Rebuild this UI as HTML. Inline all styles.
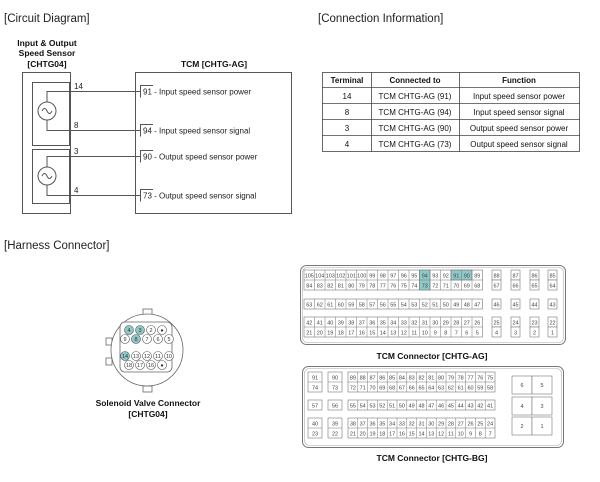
<!DOCTYPE html>
<html><head><meta charset="utf-8"><style>
html,body{margin:0;padding:0;background:#fff;}
svg{display:block;font-family:"Liberation Sans",Arial,sans-serif;}
.c{font-size:5.5px;fill:#444;text-anchor:middle;}
.cell{fill:#fff;stroke:#777;stroke-width:0.6;}
.hl{fill:#8ec8c8;stroke:#777;stroke-width:0.6;}
</style></head><body>
<svg width="600" height="482" viewBox="0 0 600 482" xmlns="http://www.w3.org/2000/svg">
<!-- headings -->
<text x="4" y="22" font-size="11.5" fill="#222">[Circuit Diagram]</text>
<text x="318" y="22" font-size="11.5" fill="#222">[Connection Information]</text>
<text x="4" y="249" font-size="11.5" fill="#222">[Harness Connector]</text>

<!-- circuit -->
<g font-size="8.5" font-weight="bold" fill="#111" text-anchor="middle">
<text x="47" y="46">Input &amp; Output</text>
<text x="47" y="56">Speed Sensor</text>
<text x="47" y="67">[CHTG04]</text>
<text x="214" y="67">TCM [CHTG-AG]</text>
</g>
<g fill="none" stroke="#555" stroke-width="1">
<rect x="22.5" y="72.5" width="48" height="141"/>
<rect x="135.5" y="72.5" width="156" height="141"/>
<rect x="32.5" y="82.5" width="37" height="63"/>
<rect x="32.5" y="149.5" width="37" height="54"/>
<circle cx="47" cy="111" r="9"/>
<circle cx="47" cy="176" r="9"/>
<path d="M42 111 q2.5 -5 5 0 t5 0"/>
<path d="M42 176 q2.5 -5 5 0 t5 0"/>
<path d="M47 102 V91.5 H141"/>
<path d="M47 120 V130.5 H141"/>
<path d="M47 167 V156.5 H141"/>
<path d="M47 185 V195.5 H141"/>
<path d="M153 85.5 H140.5 V97.5"/>
<path d="M153 124.5 H140.5 V136.5"/>
<path d="M153 150.5 H140.5 V162.5"/>
<path d="M153 189.5 H140.5 V201.5"/>
</g>
<g font-size="8" fill="#222">
<text x="74" y="89">14</text><text x="74" y="128">8</text>
<text x="74" y="154">3</text><text x="74" y="193">4</text>
<text x="143" y="94.5">91 - Input speed sensor power</text>
<text x="143" y="133.5">94 - Input speed sensor signal</text>
<text x="143" y="159.5">90 - Output speed sensor power</text>
<text x="143" y="198.5">73 - Output speed sensor signal</text>
</g>

<!-- table -->
<g fill="none" stroke="#444" stroke-width="0.8">
<rect x="322.5" y="72.5" width="257" height="79"/>
<line x1="322" y1="87.5" x2="580" y2="87.5"/>
<line x1="322" y1="103.5" x2="580" y2="103.5"/>
<line x1="322" y1="119.5" x2="580" y2="119.5"/>
<line x1="322" y1="135.5" x2="580" y2="135.5"/>
<line x1="371.5" y1="72" x2="371.5" y2="152"/>
<line x1="459.5" y1="72" x2="459.5" y2="152"/>
</g>
<g font-size="8" fill="#111" text-anchor="middle">
<text x="347" y="83" font-weight="bold">Terminal</text>
<text x="415" y="83" font-weight="bold">Connected to</text>
<text x="519" y="83" font-weight="bold">Function</text>
<text x="347" y="99">14</text><text x="415" y="99">TCM CHTG-AG (91)</text><text x="519" y="99">Input speed sensor power</text>
<text x="347" y="115">8</text><text x="415" y="115">TCM CHTG-AG (94)</text><text x="519" y="115">Input speed sensor signal</text>
<text x="347" y="131">3</text><text x="415" y="131">TCM CHTG-AG (90)</text><text x="519" y="131">Output speed sensor power</text>
<text x="347" y="147">4</text><text x="415" y="147">TCM CHTG-AG (73)</text><text x="519" y="147">Output speed sensor signal</text>
</g>

<!-- solenoid connector -->
<g fill="#fff" stroke="#666" stroke-width="0.8">
<rect x="106" y="338" width="6" height="7"/>
<rect x="106" y="358" width="6" height="7"/>
<rect x="143" y="309" width="9" height="6"/>
<rect x="143" y="386" width="9" height="6"/>
<circle cx="147" cy="350" r="36"/>
<rect x="120" y="322" width="52" height="50" rx="5"/>
</g>
<g font-size="5.5" text-anchor="middle" fill="#333" stroke="#555" stroke-width="0.6">
<circle cx="129" cy="330" r="4.5" fill="#8ec8c8"/><circle cx="140" cy="330" r="4.5" fill="#8ec8c8"/><circle cx="151" cy="330" r="4.5" fill="#fff"/><circle cx="162" cy="330" r="4.5" fill="#fff"/>
<circle cx="125" cy="339" r="4.5" fill="#fff"/><circle cx="136" cy="339" r="4.5" fill="#8ec8c8"/><circle cx="147" cy="339" r="4.5" fill="#fff"/><circle cx="158" cy="339" r="4.5" fill="#fff"/><circle cx="169" cy="339" r="4.5" fill="#fff"/>
<circle cx="125" cy="356" r="4.5" fill="#8ec8c8"/><circle cx="136" cy="356" r="4.5" fill="#fff"/><circle cx="147" cy="356" r="4.5" fill="#fff"/><circle cx="158" cy="356" r="4.5" fill="#fff"/><circle cx="169" cy="356" r="4.5" fill="#fff"/>
<circle cx="129" cy="365" r="4.5" fill="#fff"/><circle cx="140" cy="365" r="4.5" fill="#fff"/><circle cx="151" cy="365" r="4.5" fill="#fff"/><circle cx="162" cy="365" r="4.5" fill="#fff"/>
</g>
<g font-size="5.5" text-anchor="middle" fill="#333">
<text x="129" y="332">4</text><text x="140" y="332">3</text><text x="151" y="332">2</text><text x="162" y="332">●</text>
<text x="125" y="341">9</text><text x="136" y="341">8</text><text x="147" y="341">7</text><text x="158" y="341">6</text><text x="169" y="341">5</text>
<text x="125" y="358">14</text><text x="136" y="358">13</text><text x="147" y="358">12</text><text x="158" y="358">11</text><text x="169" y="358">10</text>
<text x="129" y="367">18</text><text x="140" y="367">17</text><text x="151" y="367">16</text><text x="162" y="367">●</text>
</g>
<g font-size="8.5" font-weight="bold" fill="#111" text-anchor="middle">
<text x="148" y="406">Solenoid Valve Connector</text>
<text x="148" y="417">[CHTG04]</text>
<text x="432" y="359">TCM Connector [CHTG-AG]</text>
<text x="432" y="461">TCM Connector [CHTG-BG]</text>
</g>

<!-- AG connector -->
<rect x="300.5" y="265.5" width="265" height="79" rx="6" fill="none" stroke="#777"/>
<rect x="302.5" y="267.5" width="261" height="75" rx="5" fill="none" stroke="#aaa" stroke-width="0.6"/>
<g>
<!-- row1 -->
<rect class="cell" x="304" y="270" width="178.5" height="20"/>
<rect class="hl" x="419.5" y="270" width="10.5" height="20"/>
<rect class="hl" x="451" y="270" width="21" height="10"/>
<rect class="cell" x="304" y="299" width="178.5" height="10"/>
<rect class="cell" x="304" y="317" width="178.5" height="20"/>
<g stroke="#777" stroke-width="0.5">
<line x1="304" y1="280" x2="482.5" y2="280"/><line x1="304" y1="327" x2="482.5" y2="327"/>
<path d="M314.5 270V290M325 270V290M335.5 270V290M346 270V290M356.5 270V290M367 270V290M377.5 270V290M388 270V290M398.5 270V290M409 270V290M419.5 270V290M430 270V290M440.5 270V290M451 270V290M461.5 270V290M472 270V290"/>
<path d="M314.5 299V309M325 299V309M335.5 299V309M346 299V309M356.5 299V309M367 299V309M377.5 299V309M388 299V309M398.5 299V309M409 299V309M419.5 299V309M430 299V309M440.5 299V309M451 299V309M461.5 299V309M472 299V309"/>
<path d="M314.5 317V337M325 317V337M335.5 317V337M346 317V337M356.5 317V337M367 317V337M377.5 317V337M388 317V337M398.5 317V337M409 317V337M419.5 317V337M430 317V337M440.5 317V337M451 317V337M461.5 317V337M472 317V337"/>
</g>
<g class="cell">
<rect x="492" y="270" width="9" height="10"/><rect x="511" y="270" width="9" height="10"/><rect x="530" y="270" width="9" height="10"/><rect x="548" y="270" width="9" height="10"/>
<rect x="492" y="280" width="9" height="10"/><rect x="511" y="280" width="9" height="10"/><rect x="530" y="280" width="9" height="10"/><rect x="548" y="280" width="9" height="10"/>
<rect x="492" y="299" width="9" height="10"/><rect x="511" y="299" width="9" height="10"/><rect x="530" y="299" width="9" height="10"/><rect x="548" y="299" width="9" height="10"/>
<rect x="492" y="317" width="9" height="10"/><rect x="511" y="317" width="9" height="10"/><rect x="530" y="317" width="9" height="10"/><rect x="548" y="317" width="9" height="10"/>
<rect x="492" y="327" width="9" height="10"/><rect x="511" y="327" width="9" height="10"/><rect x="530" y="327" width="9" height="10"/><rect x="548" y="327" width="9" height="10"/>
</g>
<g class="c">
<text y="277.5"><tspan x="309.25">105</tspan><tspan x="319.75">104</tspan><tspan x="330.25">103</tspan><tspan x="340.75">102</tspan><tspan x="351.25">101</tspan><tspan x="361.75">100</tspan><tspan x="372.25">99</tspan><tspan x="382.75">98</tspan><tspan x="393.25">97</tspan><tspan x="403.75">96</tspan><tspan x="414.25">95</tspan><tspan x="424.75">94</tspan><tspan x="435.25">93</tspan><tspan x="445.75">92</tspan><tspan x="456.25">91</tspan><tspan x="466.75">90</tspan><tspan x="477.25">89</tspan><tspan x="496.5">88</tspan><tspan x="515.5">87</tspan><tspan x="534.5">86</tspan><tspan x="552.5">85</tspan></text>
<text y="287.5"><tspan x="309.25">84</tspan><tspan x="319.75">83</tspan><tspan x="330.25">82</tspan><tspan x="340.75">81</tspan><tspan x="351.25">80</tspan><tspan x="361.75">79</tspan><tspan x="372.25">78</tspan><tspan x="382.75">77</tspan><tspan x="393.25">76</tspan><tspan x="403.75">75</tspan><tspan x="414.25">74</tspan><tspan x="424.75">73</tspan><tspan x="435.25">72</tspan><tspan x="445.75">71</tspan><tspan x="456.25">70</tspan><tspan x="466.75">69</tspan><tspan x="477.25">68</tspan><tspan x="496.5">67</tspan><tspan x="515.5">66</tspan><tspan x="534.5">65</tspan><tspan x="552.5">64</tspan></text>
<text y="306.5"><tspan x="309.25">63</tspan><tspan x="319.75">62</tspan><tspan x="330.25">61</tspan><tspan x="340.75">60</tspan><tspan x="351.25">59</tspan><tspan x="361.75">58</tspan><tspan x="372.25">57</tspan><tspan x="382.75">56</tspan><tspan x="393.25">55</tspan><tspan x="403.75">54</tspan><tspan x="414.25">53</tspan><tspan x="424.75">52</tspan><tspan x="435.25">51</tspan><tspan x="445.75">50</tspan><tspan x="456.25">49</tspan><tspan x="466.75">48</tspan><tspan x="477.25">47</tspan><tspan x="496.5">46</tspan><tspan x="515.5">45</tspan><tspan x="534.5">44</tspan><tspan x="552.5">43</tspan></text>
<text y="324.5"><tspan x="309.25">42</tspan><tspan x="319.75">41</tspan><tspan x="330.25">40</tspan><tspan x="340.75">39</tspan><tspan x="351.25">38</tspan><tspan x="361.75">37</tspan><tspan x="372.25">36</tspan><tspan x="382.75">35</tspan><tspan x="393.25">34</tspan><tspan x="403.75">33</tspan><tspan x="414.25">32</tspan><tspan x="424.75">31</tspan><tspan x="435.25">30</tspan><tspan x="445.75">29</tspan><tspan x="456.25">28</tspan><tspan x="466.75">27</tspan><tspan x="477.25">26</tspan><tspan x="496.5">25</tspan><tspan x="515.5">24</tspan><tspan x="534.5">23</tspan><tspan x="552.5">22</tspan></text>
<text y="334.5"><tspan x="309.25">21</tspan><tspan x="319.75">20</tspan><tspan x="330.25">19</tspan><tspan x="340.75">18</tspan><tspan x="351.25">17</tspan><tspan x="361.75">16</tspan><tspan x="372.25">15</tspan><tspan x="382.75">14</tspan><tspan x="393.25">13</tspan><tspan x="403.75">12</tspan><tspan x="414.25">11</tspan><tspan x="424.75">10</tspan><tspan x="435.25">9</tspan><tspan x="445.75">8</tspan><tspan x="456.25">7</tspan><tspan x="466.75">6</tspan><tspan x="477.25">5</tspan><tspan x="496.5">4</tspan><tspan x="515.5">3</tspan><tspan x="534.5">2</tspan><tspan x="552.5">1</tspan></text>
</g>
</g>

<!-- BG connector -->
<rect x="302.5" y="366.5" width="261" height="81" rx="6" fill="none" stroke="#777"/>
<rect x="304.5" y="368.5" width="257" height="77" rx="5" fill="none" stroke="#aaa" stroke-width="0.6"/>
<g>
<rect class="cell" x="308" y="372" width="14" height="20"/><rect class="cell" x="328" y="372" width="14" height="20"/>
<rect class="cell" x="308" y="400" width="14" height="10"/><rect class="cell" x="328" y="400" width="14" height="10"/>
<rect class="cell" x="308" y="418" width="14" height="20"/><rect class="cell" x="328" y="418" width="14" height="20"/>
<rect class="cell" x="348" y="372" width="147" height="20"/>
<rect class="cell" x="348" y="400" width="147" height="10"/>
<rect class="cell" x="348" y="418" width="147" height="20"/>
<g stroke="#777" stroke-width="0.5">
<path d="M308 382H322M328 382H342M348 382H495M308 428H322M328 428H342M348 428H495"/>
<path d="M357.8 372V392M367.6 372V392M377.4 372V392M387.2 372V392M397 372V392M406.8 372V392M416.6 372V392M426.4 372V392M436.2 372V392M446 372V392M455.8 372V392M465.6 372V392M475.4 372V392M485.2 372V392"/>
<path d="M357.8 400V410M367.6 400V410M377.4 400V410M387.2 400V410M397 400V410M406.8 400V410M416.6 400V410M426.4 400V410M436.2 400V410M446 400V410M455.8 400V410M465.6 400V410M475.4 400V410M485.2 400V410"/>
<path d="M357.8 418V438M367.6 418V438M377.4 418V438M387.2 418V438M397 418V438M406.8 418V438M416.6 418V438M426.4 418V438M436.2 418V438M446 418V438M455.8 418V438M465.6 418V438M475.4 418V438M485.2 418V438"/>
</g>
<g class="cell">
<rect x="512" y="376" width="20" height="18"/><rect x="532" y="376" width="20" height="18"/>
<rect x="512" y="397" width="20" height="18"/><rect x="532" y="397" width="20" height="18"/>
<rect x="512" y="417" width="20" height="18"/><rect x="532" y="417" width="20" height="18"/>
</g>
<g class="c">
<text y="379.5"><tspan x="315">91</tspan><tspan x="335">90</tspan><tspan x="352.9">89</tspan><tspan x="362.7">88</tspan><tspan x="372.5">87</tspan><tspan x="382.3">86</tspan><tspan x="392.1">85</tspan><tspan x="401.9">84</tspan><tspan x="411.7">83</tspan><tspan x="421.5">82</tspan><tspan x="431.3">81</tspan><tspan x="441.1">80</tspan><tspan x="450.9">79</tspan><tspan x="460.7">78</tspan><tspan x="470.5">77</tspan><tspan x="480.3">76</tspan><tspan x="490.1">75</tspan></text>
<text y="389.5"><tspan x="315">74</tspan><tspan x="335">73</tspan><tspan x="352.9">72</tspan><tspan x="362.7">71</tspan><tspan x="372.5">70</tspan><tspan x="382.3">69</tspan><tspan x="392.1">68</tspan><tspan x="401.9">67</tspan><tspan x="411.7">66</tspan><tspan x="421.5">65</tspan><tspan x="431.3">64</tspan><tspan x="441.1">63</tspan><tspan x="450.9">62</tspan><tspan x="460.7">61</tspan><tspan x="470.5">60</tspan><tspan x="480.3">59</tspan><tspan x="490.1">58</tspan></text>
<text y="407.5"><tspan x="315">57</tspan><tspan x="335">56</tspan><tspan x="352.9">55</tspan><tspan x="362.7">54</tspan><tspan x="372.5">53</tspan><tspan x="382.3">52</tspan><tspan x="392.1">51</tspan><tspan x="401.9">50</tspan><tspan x="411.7">49</tspan><tspan x="421.5">48</tspan><tspan x="431.3">47</tspan><tspan x="441.1">46</tspan><tspan x="450.9">45</tspan><tspan x="460.7">44</tspan><tspan x="470.5">43</tspan><tspan x="480.3">42</tspan><tspan x="490.1">41</tspan></text>
<text y="425.5"><tspan x="315">40</tspan><tspan x="335">39</tspan><tspan x="352.9">38</tspan><tspan x="362.7">37</tspan><tspan x="372.5">36</tspan><tspan x="382.3">35</tspan><tspan x="392.1">34</tspan><tspan x="401.9">33</tspan><tspan x="411.7">32</tspan><tspan x="421.5">31</tspan><tspan x="431.3">30</tspan><tspan x="441.1">29</tspan><tspan x="450.9">28</tspan><tspan x="460.7">27</tspan><tspan x="470.5">26</tspan><tspan x="480.3">25</tspan><tspan x="490.1">24</tspan></text>
<text y="435.5"><tspan x="315">23</tspan><tspan x="335">22</tspan><tspan x="352.9">21</tspan><tspan x="362.7">20</tspan><tspan x="372.5">19</tspan><tspan x="382.3">18</tspan><tspan x="392.1">17</tspan><tspan x="401.9">16</tspan><tspan x="411.7">15</tspan><tspan x="421.5">14</tspan><tspan x="431.3">13</tspan><tspan x="441.1">12</tspan><tspan x="450.9">11</tspan><tspan x="460.7">10</tspan><tspan x="470.5">9</tspan><tspan x="480.3">8</tspan><tspan x="490.1">7</tspan></text>
<text y="387"><tspan x="522">6</tspan><tspan x="542">5</tspan></text>
<text y="408"><tspan x="522">4</tspan><tspan x="542">3</tspan></text>
<text y="428"><tspan x="522">2</tspan><tspan x="542">1</tspan></text>
</g>
</g>
</svg>
</body></html>
